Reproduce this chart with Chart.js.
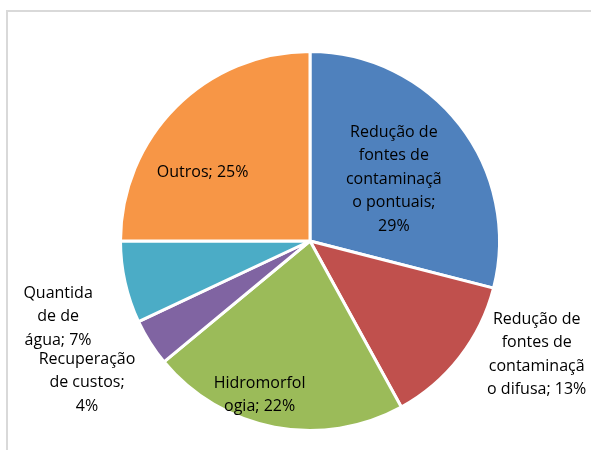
<!DOCTYPE html>
<html>
<head>
<meta charset="utf-8">
<script src="https://cdn.jsdelivr.net/npm/chart.js@4"></script>
<style>
    body { margin: 0; background: #fff; }
    #frame { position: absolute; left: 6px; top: 10px; width: 620px; height: 480px; border: 2px solid #d9d9d9; }
    #wrap { position: absolute; left: 0; top: 0; width: 591px; height: 450px; }
</style>
</head>
<body>
<div id="frame"></div>
<div id="wrap"><canvas id="pieChart"></canvas></div>
<script>
// data
var labels = [
    ['Redução de', 'fontes de', 'contaminaçã', 'o pontuais;', '29%'],
    ['Redução de', 'fontes de', 'contaminaçã', 'o difusa; 13%'],
    ['Hidromorfol', 'ogia; 22%'],
    ['Recuperação', 'de custos;', '4%'],
    ['Quantida', 'de de', 'água; 7%'],
    ['Outros; 25%']
];
var values = [29, 13, 22, 4, 7, 25];
var colors = ['#4F81BD', '#C0504D', '#9BBB59', '#8064A2', '#4BACC6', '#F79646'];

// where each label sits: fraction of radius along the slice middle, then a nudge
var labelRadius = [0.6, 1.2, 0.8, 1.2, 1.2, 0.6];
var labelNudge = [[-6, 8], [47, -26], [-22, 5], [-31, 20], [-30, 26], [-27, 12]];

var sliceLabels = {
    id: 'sliceLabels',
    afterDatasetsDraw: function (chart) {
        var ctx = chart.ctx;
        var meta = chart.getDatasetMeta(0);
        ctx.save();
        ctx.font = '16px "Open Sans"';
        ctx.fillStyle = '#000';
        ctx.textAlign = 'center';
        ctx.textBaseline = 'middle';
        meta.data.forEach(function (arc, i) {
            var p = arc.getProps(['x', 'y', 'startAngle', 'endAngle', 'outerRadius'], true);
            var mid = (p.startAngle + p.endAngle) / 2;
            var r = p.outerRadius * labelRadius[i];
            var x = p.x + Math.cos(mid) * r + labelNudge[i][0];
            var y = p.y + Math.sin(mid) * r + labelNudge[i][1];
            var lines = labels[i];
            var lh = 23.5;
            lines.forEach(function (line, j) {
                ctx.fillText(line, x, y + (j - (lines.length - 1) / 2) * lh);
            });
        });
        ctx.restore();
    }
};

var ctx = document.getElementById('pieChart');
var myPie = new Chart(ctx, {
    type: 'pie',
    data: {
        labels: labels.map(function (l) { return l.join(' '); }),
        datasets: [{
            data: values,
            backgroundColor: colors,
            borderColor: '#ffffff',
            borderWidth: 3
        }]
    },
    options: {
        responsive: true,
        maintainAspectRatio: false,
        animation: false,
        layout: { padding: { left: 57, right: 28, top: 50, bottom: 18 } },
        plugins: {
            legend: { display: false },
            tooltip: { enabled: false }
        }
    },
    plugins: [sliceLabels]
});
</script>
</body>
</html>
